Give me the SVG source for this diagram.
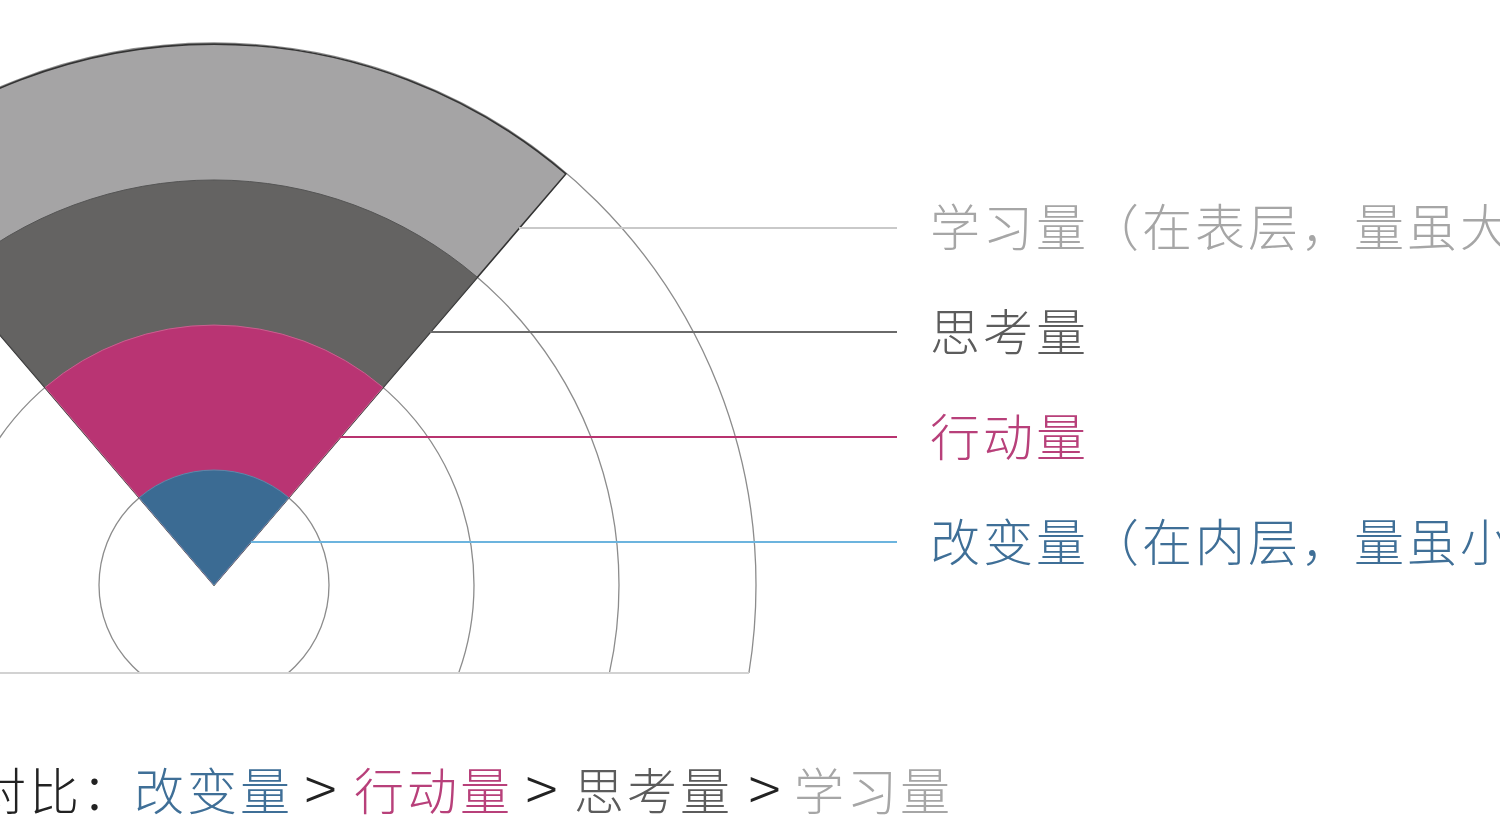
<svg xmlns="http://www.w3.org/2000/svg" width="1500" height="840" viewBox="0 0 1500 840">
  <style>
    .ring { fill: none; stroke: #8c8c8c; stroke-width: 1.3; }
    .lead { fill: none; stroke-width: 2.2; }
    .t { font-family: "Noto Sans CJK SC", "Noto Sans", sans-serif; font-size: 50px; font-weight: 300; letter-spacing: 3px; }
    .gt { font-family: "Noto Sans CJK SC", "Noto Sans", sans-serif; font-size: 60px; font-weight: 300; text-anchor: middle; fill: #222; }
  </style>
  <defs>
    <clipPath id="above">
      <rect x="0" y="0" width="1500" height="673"/>
    </clipPath>
  </defs>
  <rect x="0" y="0" width="1500" height="840" fill="#ffffff"/>

  <g id="rings" clip-path="url(#above)">
    <circle class="ring" cx="214" cy="585" r="115"/>
    <circle class="ring" cx="214" cy="585" r="260"/>
    <circle class="ring" cx="214" cy="585" r="405"/>
    <circle class="ring" cx="214" cy="585" r="542"/>
  </g>
  <line x1="0" y1="673" x2="749" y2="673" stroke="#d2d2d2" stroke-width="2"/>

  <g id="sector-learn">
    <path d="M214,585 L-137.9,173.9 A542,542 0 0 1 565.9,173.9 Z" fill="#a5a4a5" stroke="#333" stroke-width="1.6"/>
  </g>
  <g id="sector-think">
    <path d="M214,585 L-49,277 A405,405 0 0 1 477,277 Z" fill="#646362" stroke="#555" stroke-width="1"/>
  </g>
  <g id="sector-act">
    <path d="M214,585 L45.2,387.3 A260,260 0 0 1 382.8,387.3 Z" fill="#b93473" stroke="#c9608f" stroke-width="1"/>
  </g>
  <g id="sector-change">
    <path d="M214,585 L139.3,497.6 A115,115 0 0 1 288.7,497.6 Z" fill="#3b6b93" stroke="#5f88aa" stroke-width="1"/>
  </g>

  <g id="connectors">
    <line class="lead" x1="519" y1="228" x2="897" y2="228" stroke="#c9c9c9"/>
    <line class="lead" x1="430" y1="332" x2="897" y2="332" stroke="#6a6a6a"/>
    <line class="lead" x1="340" y1="437" x2="897" y2="437" stroke="#b8336f"/>
    <line class="lead" x1="251" y1="542" x2="897" y2="542" stroke="#6cb4de" stroke-width="2.5"/>
  </g>

  <g id="label-learn">
    <text class="t" x="930" y="246" fill="#a6a6a6">学习量（在表层，量虽大</text>
  </g>
  <g id="label-think">
    <text class="t" x="930" y="351" fill="#5c5c5c">思考量</text>
  </g>
  <g id="label-act">
    <text class="t" x="930" y="456" fill="#b8407a">行动量</text>
  </g>
  <g id="label-change">
    <text class="t" x="930" y="561" fill="#3f6f97">改变量（在内层，量虽小</text>
  </g>

  <g id="compare">
    <text class="t" x="-24" y="810" fill="#222">对比：</text>
    <text class="t" x="134" y="810" fill="#3f6f97">改变量</text>
    <text class="gt" x="320.5" y="812">&gt;</text>
    <text class="t" x="354" y="810" fill="#b8407a">行动量</text>
    <text class="gt" x="541.5" y="812">&gt;</text>
    <text class="t" x="574" y="810" fill="#5c5c5c">思考量</text>
    <text class="gt" x="764.5" y="812">&gt;</text>
    <text class="t" x="794" y="810" fill="#a6a6a6">学习量</text>
  </g>
</svg>
